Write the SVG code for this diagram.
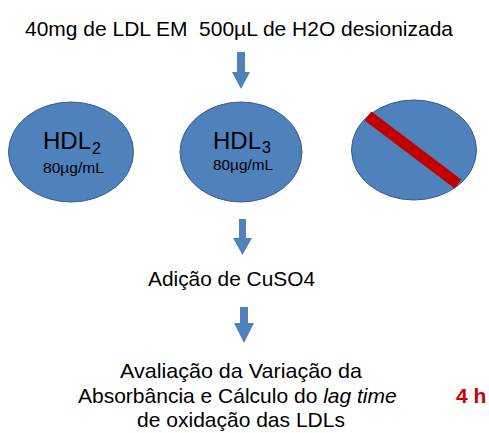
<svg xmlns="http://www.w3.org/2000/svg" width="489" height="433" viewBox="0 0 489 433">
<style>
.t{font-family:"Liberation Sans",Arial,sans-serif;fill:#000;}
.big{font-size:21px;}
.hdl{font-size:24px;}
.sub{font-size:16px;}
.conc{font-size:14px;}
.node{fill:#4F81BD;stroke:#385D8A;stroke-width:1;}
.arrow{fill:#4F81BD;}
</style>
<rect width="489" height="433" fill="#fff"/>
<g id="start">
<text class="t big" x="25" y="36" xml:space="preserve" textLength="428" lengthAdjust="spacingAndGlyphs">40mg de LDL EM  500µL de H2O desionizada</text>
</g>
<g id="hdl2">
<ellipse class="node" cx="71" cy="152" rx="62.5" ry="50"/>
<text class="t hdl" x="43" y="149">HDL<tspan class="sub" dx="1" dy="4.5">2</tspan></text>
<text class="t conc" x="43" y="172.5" textLength="61" lengthAdjust="spacingAndGlyphs">80µg/mL</text>
</g>
<g id="hdl3">
<ellipse class="node" cx="241" cy="152" rx="61" ry="50"/>
<text class="t hdl" x="213" y="148.5">HDL<tspan class="sub" dx="1" dy="4.5">3</tspan></text>
<text class="t conc" x="213" y="169.5" textLength="60" lengthAdjust="spacingAndGlyphs">80µg/mL</text>
</g>
<g id="control">
<ellipse class="node" cx="414" cy="150" rx="62.5" ry="50"/>
<line x1="368" y1="116" x2="458" y2="184" stroke="#C00000" stroke-width="11"/>
</g>
<g id="cuso4">
<text class="t big" x="148" y="286" textLength="167" lengthAdjust="spacingAndGlyphs">Adição de CuSO4</text>
</g>
<g id="avaliacao">
<text class="t big" x="120" y="378" textLength="242" lengthAdjust="spacingAndGlyphs">Avaliação da Variação da</text>
<text class="t big" x="78" y="403">Absorbância e Cálculo do <tspan font-style="italic">lag time</tspan></text>
<text class="t big" x="241" y="427" text-anchor="middle">de oxidação das LDLs</text>
</g>
<g id="time">
<text class="t big" x="456" y="403" font-weight="bold" style="fill:#CC0000">4 h</text>
</g>
<g id="connectors">
<polygon class="arrow" points="237,52 245,52 245,72 250,72 241,89 232,72 237,72"/>
<polygon class="arrow" points="239,219 246,219 246,238 252,238 242.5,255 233,238 239,238"/>
<polygon class="arrow" points="240,307 248,307 248,323 254,323 244,343 234,323 240,323"/>
</g>
</svg>
